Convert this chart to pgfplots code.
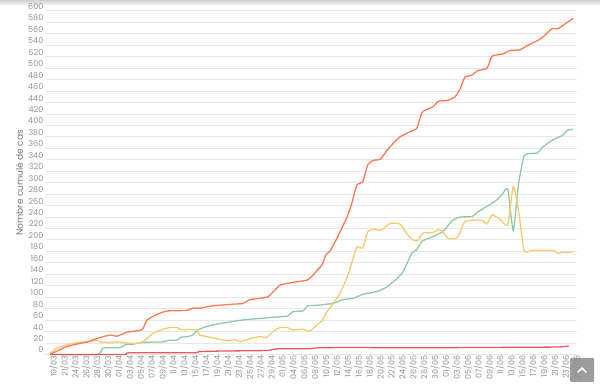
\documentclass[border=0pt]{standalone}
\usepackage{pgfplots}
\pgfplotsset{compat=1.18}
\usepackage{fontspec}
\setmainfont{Poppins}
\definecolor{corange}{RGB}{252,121,83}
\definecolor{cyellow}{RGB}{247,202,110}
\definecolor{cgreen}{RGB}{143,202,168}
\definecolor{cred}{RGB}{232,88,95}
\definecolor{cgrid}{RGB}{232,232,232}
\definecolor{ctext}{RGB}{145,145,145}
\begin{document}
\begin{tikzpicture}
\fill[top color=black!18, bottom color=white] (0pt,381pt) rectangle (600pt,387pt);
\begin{axis}[
  at={(45pt,32.5pt)}, anchor=south west,
  scale only axis, width=532pt, height=343.5pt,
  xmin=-0.92, xmax=96.7, ymin=0, ymax=600,
  axis line style={draw=none},
  major tick length=0pt,
  ytick={0,20,...,600},
  ymajorgrids, grid style={cgrid, line width=1pt},
  xtick={0,2,...,96},
  xticklabels={19/03,21/03,24/03,26/03,28/03,30/03,01/04,03/04,05/04,07/04,09/04,11/04,13/04,15/04,17/04,19/04,21/04,23/04,25/04,27/04,29/04,01/05,04/05,06/05,08/05,10/05,12/05,14/05,16/05,18/05,20/05,22/05,24/05,26/05,28/05,30/05,01/06,03/06,05/06,07/06,09/06,11/06,13/06,15/06,17/06,19/06,21/06,23/06,25/06},
  xticklabel style={xshift=3.5pt, rotate=90, anchor=east, font=\fontsize{8}{8.5}\selectfont, text=ctext, inner sep=1pt},
  yticklabel style={anchor=east, font=\fontsize{8}{9}\selectfont, text=ctext, yshift=4.5pt, inner sep=1.5pt},
  /pgf/number format/assume math mode=true,
  ylabel={Nombre cumulé de cas},
  ylabel style={at={(axis description cs:-0.0483,0.5)}, anchor=center, font=\fontsize{9}{10}\selectfont, text=black!55},
  clip=false,
  every axis plot/.append style={line width=1.3pt, no markers, line join=round, smooth, tension=0.3},
]
\addplot[cgreen] coordinates {
(0,0) (8.6,0) (9.7,11) (11,12) (12.8,12) (14.1,18) (15.2,18) (17.1,21) (19.6,22) (20.7,22) (22,25) (23.3,25) (23.9,30) (25.1,31) (26.2,34) (27.1,43) (28.8,49) (30.6,53) (32.5,56) (34.3,59) (36.1,61) (38.5,63) (40.9,65) (43.5,67) (44.6,75) (46.4,76) (47.3,85) (49.2,86) (50.8,88) (51.9,89) (53.8,96) (55.6,98) (57.4,105) (60,110) (61.8,118) (63.7,133) (64.8,145) (66.4,177) (67.3,183) (68.3,198) (70.3,206) (72.1,215) (73.8,234) (75.2,240) (77.4,241) (78.5,249) (80.2,259) (82,270) (83,280) (84,289) (85,216) (86,300) (87,347) (88,351) (89.4,352) (90.5,363) (92.3,375) (94.1,383) (95,392) (96,393)
};
\addplot[cyellow] coordinates {
(0,2) (1.3,11) (3.1,17) (5,21) (6.8,22) (8.6,25) (9.2,22) (11,21) (12.8,22) (14.1,20) (16.5,20) (17.8,28) (18.9,37) (20.7,44) (22,47) (23.3,47) (24.2,43) (25.7,44) (27,42) (27.5,34) (29.9,29) (32.5,24) (33.9,26) (34.9,22) (36.7,28) (38.5,31) (39.8,30) (40.9,40) (42.2,47) (43.5,47) (44.6,43) (46.4,44) (47.7,41) (49,52) (49.9,59) (50.8,75) (51.6,84) (53.2,107) (54.7,139) (55.6,168) (56.3,188) (57.4,186) (58.3,214) (59.3,219) (60.7,217) (62.4,229) (64.2,228) (65.5,211) (66.6,200) (67.5,199) (68.4,212) (70.3,213) (71.2,218) (72.1,215) (73,203) (74.5,203) (75.2,212) (76.1,232) (78.3,235) (79.4,234) (80.2,228) (81.1,244) (82.6,236) (84,226) (85,294) (86,250) (87,181) (88.6,182) (92.3,182) (93.2,176) (94.1,179) (95,178) (96,180)
};
\addplot[corange] coordinates {
(0,0) (3.1,14) (6.8,22) (8.6,28) (11,34) (12.3,32) (14.1,39) (16.5,42) (17.1,46) (17.8,60) (19.6,70) (21.5,76) (25.1,77) (26.2,81) (27.5,81) (29.9,85) (33.6,88) (35.4,89) (36.7,96) (39.8,100) (40.7,107) (42.2,121) (44.6,126) (47.2,130) (48.3,139) (49.2,149) (49.9,156) (50.6,174) (51.4,181) (52.7,204) (54.5,240) (55.4,265) (56.3,296) (57.4,302) (58.3,331) (59.3,339) (60.6,341) (61.8,356) (63,369) (64.2,380) (66,389) (67.3,395) (68.3,423) (70.3,433) (71.2,442) (73,444) (74.3,450) (75.2,463) (76.1,484) (77.4,488) (78.5,496) (80.2,500) (81.1,521) (83.1,525) (84.4,531) (86.2,532) (87.5,539) (89.4,548) (90.5,555) (92.1,569) (93.2,569) (94.9,580) (96,587)
};
\addplot[cred] coordinates {
(0,0) (13.5,0) (14.5,3) (26.5,3) (27.3,5) (31.2,6) (39.8,7) (41.7,10) (47.7,10) (50.1,12) (73.4,12) (92.7,13) (95.2,15)
};
\end{axis}
\fill[black!45, opacity=0.85, rounded corners=1pt] (570pt,5pt) rectangle (594pt,29pt);
\draw[white, line width=1.6pt, line cap=round, line join=round] (578pt,15pt) -- (582pt,19pt) -- (586pt,15pt);
\pgfresetboundingbox
\path[use as bounding box] (0pt,0pt) rectangle (600pt,387pt);
\end{tikzpicture}
\end{document}
